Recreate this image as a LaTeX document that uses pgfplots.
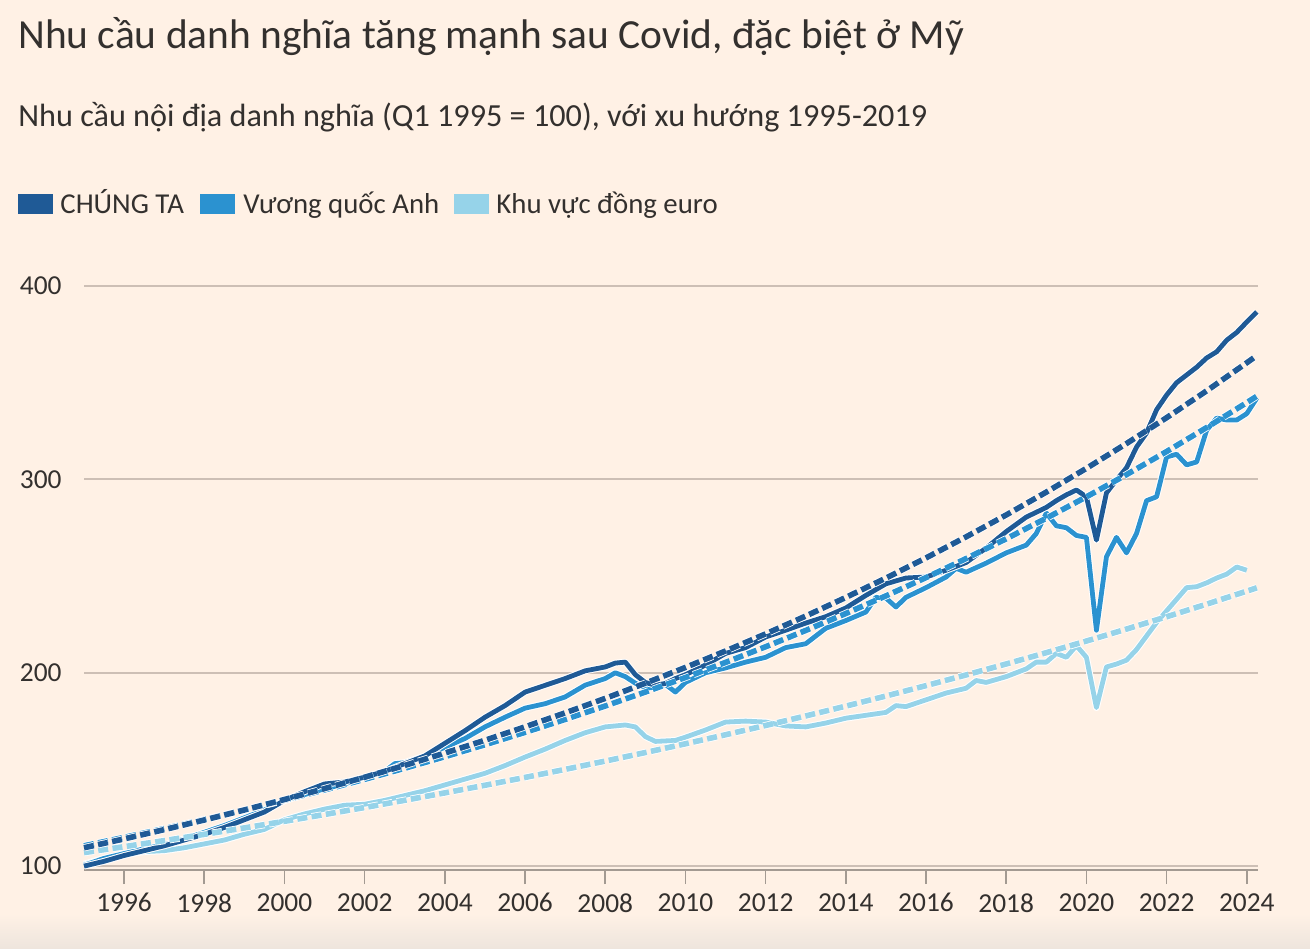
\documentclass[border=0pt]{standalone}
\usepackage{fontspec}
\setmainfont{Carlito}
\usepackage{pgfplots}
\pgfplotsset{compat=1.18}
\definecolor{bg}{HTML}{FFF1E5}
\definecolor{bgdark}{HTML}{EEE5DD}
\definecolor{txt}{HTML}{33302E}
\definecolor{usc}{HTML}{1F5A96}
\definecolor{ukc}{HTML}{2B92D0}
\definecolor{euc}{HTML}{96D3E9}
\definecolor{gridc}{HTML}{CDBFB5}
\definecolor{axc}{HTML}{A39A92}
\begin{document}
\begin{tikzpicture}[x=1pt,y=1pt]
\fill[bg] (0,0) rectangle (655,474);
\shade[top color=bg, bottom color=bgdark] (0,0) rectangle (655,17);
\node[anchor=base west, inner sep=0pt, text=txt, font=\fontsize{20.7}{24}\selectfont] at (9,449.5) {Nhu cầu danh nghĩa tăng mạnh sau Covid, đặc biệt ở Mỹ};
\node[anchor=base west, inner sep=0pt, text=txt, font=\fontsize{16.1}{19}\selectfont] at (9,410.5) {Nhu cầu nội địa danh nghĩa (Q1 1995 = 100), với xu hướng 1995-2019};
\fill[usc] (9,367) rectangle (26.5,377);
\node[anchor=base west, inner sep=0pt, text=txt, font=\fontsize{14.4}{17}\selectfont] at (30,367) {CHÚNG TA};
\fill[ukc] (100,367) rectangle (117.5,377);
\node[anchor=base west, inner sep=0pt, text=txt, font=\fontsize{14.4}{17}\selectfont] at (121.5,367) {Vương quốc Anh};
\fill[euc] (227,367) rectangle (244.5,377);
\node[anchor=base west, inner sep=0pt, text=txt, font=\fontsize{14.4}{17}\selectfont] at (248,367) {Khu vực đồng euro};
\begin{axis}[at={(42pt,39pt)}, anchor=south west, scale only axis,
  width=587pt, height=292pt,
  xmin=1995, xmax=2024.28, ymin=98, ymax=400, clip=false,
  axis x line*=bottom, axis y line*=left,
  x axis line style={draw=axc, line width=1pt, -},
  y axis line style={draw=none},
  xtick={1996,1998,...,2024}, ytick={100,200,300,400},
  tick align=outside, major tick length=7pt,
  x tick style={draw=axc, line width=0.8pt},
  y tick style={draw=none},
  ymajorgrids, grid style={draw=gridc, line width=1pt},
  /pgf/number format/assume math mode=true,
  /pgf/number format/1000 sep={},
  ticklabel style={font=\fontsize{13.7}{16}\selectfont, text=txt},
  xticklabel style={anchor=north, inner sep=0pt, yshift=-4.5pt},
  yticklabel style={anchor=east, inner sep=0pt, xshift=-4pt},
  solid/.style={line width=2.4pt, line join=round, preaction={draw=white, line width=3.4pt}},
  trend/.style={line width=2.8pt, dash pattern=on 5pt off 2.2pt, preaction={draw=white, line width=3.6pt}},
]
% Euro area
\addplot[solid, euc] coordinates {
(1995.0,101) (1995.5,104) (1996.0,106) (1996.5,107.5) (1997.0,108) (1997.5,109.5)
(1998.0,111.5) (1998.5,113.5) (1999.0,116.5) (1999.5,119) (2000.0,124) (2000.5,127)
(2001.0,129.5) (2001.5,131.5) (2002.0,132) (2002.5,134) (2003.0,136.5) (2003.5,139)
(2004.0,142) (2004.5,145) (2005.0,148) (2005.5,152) (2006.0,156.4) (2006.5,160.5)
(2007.0,165) (2007.5,169) (2008.0,172) (2008.5,173) (2008.75,172) (2009.0,167)
(2009.25,164.5) (2009.75,165) (2010.0,166.7) (2010.5,170.4) (2011.0,174.5) (2011.5,175)
(2012.0,174.5) (2012.5,172.5) (2013.0,172) (2013.5,174) (2014.0,176.5) (2014.5,178)
(2015.0,179.5) (2015.25,183) (2015.5,182.5) (2016.0,186) (2016.5,189.5) (2017.0,192)
(2017.25,196) (2017.5,195) (2018.0,198) (2018.5,202) (2018.75,205.5) (2019.0,205.5)
(2019.25,210) (2019.5,208) (2019.75,214) (2020.0,208) (2020.25,182) (2020.5,203)
(2020.75,204.5) (2021.0,206.5) (2021.25,212) (2021.5,219) (2021.75,226) (2022.0,232)
(2022.25,238) (2022.5,244) (2022.75,244.5) (2023.0,246.5) (2023.25,249) (2023.5,251)
(2023.75,254.7) (2024.0,253)
};
% UK
\addplot[solid, ukc] coordinates {
(1995.0,100.5) (1995.5,104) (1996.0,106.5) (1996.5,109) (1997.0,111) (1997.5,114)
(1998.0,117.5) (1998.5,121) (1999.0,125) (1999.5,129) (2000.0,134) (2000.5,137)
(2001.0,140) (2001.5,142.5) (2002.0,146) (2002.5,149) (2002.75,153) (2003.0,153.5)
(2003.5,157) (2004.0,161.5) (2004.5,166) (2005.0,172) (2005.5,177) (2006.0,181.7)
(2006.5,184) (2007.0,187.5) (2007.5,193.6) (2008.0,197) (2008.25,200) (2008.5,198)
(2008.75,194.6) (2009.0,192) (2009.25,192.5) (2009.5,194) (2009.75,190) (2010.0,195)
(2010.5,200) (2011.0,202.5) (2011.5,205.5) (2012.0,208) (2012.5,213) (2013.0,215)
(2013.5,223) (2014.0,227) (2014.5,231.4) (2014.75,239) (2015.0,238.6) (2015.25,234)
(2015.5,239) (2016.0,244) (2016.5,249.5) (2016.75,254) (2017.0,252) (2017.5,256.7)
(2018.0,262) (2018.5,266) (2018.75,272) (2019.0,282.6) (2019.25,276) (2019.5,275)
(2019.75,271) (2020.0,270) (2020.25,222) (2020.5,260) (2020.75,270) (2021.0,262)
(2021.25,272) (2021.5,289) (2021.75,291) (2022.0,311.6) (2022.25,313) (2022.5,307.5)
(2022.75,309) (2023.0,325.5) (2023.25,331.7) (2023.5,330.7) (2023.75,330.7) (2024.0,334)
(2024.25,342)
};
% US
\addplot[solid, usc] coordinates {
(1995.0,100) (1995.5,102.5) (1996.0,105.5) (1996.5,108) (1997.0,110.5) (1997.5,113.5)
(1998.0,116.5) (1998.5,120) (1999.0,124) (1999.5,128) (2000.0,134) (2000.5,138.5)
(2000.75,140.5) (2001.0,142.5) (2001.5,143.5) (2002.0,146) (2002.5,149) (2003.0,153)
(2003.5,157) (2004.0,163.5) (2004.5,170) (2005.0,177) (2005.5,183) (2006.0,190)
(2006.5,193.5) (2007.0,197) (2007.5,201) (2008.0,203) (2008.25,205) (2008.5,205.5)
(2008.75,199) (2009.0,195) (2009.25,193.5) (2009.5,194.5) (2009.75,197) (2010.0,199)
(2010.5,204) (2011.0,210) (2011.5,213) (2012.0,218.5) (2012.5,222) (2013.0,225.7)
(2013.5,229) (2014.0,233.5) (2014.5,240) (2015.0,246) (2015.5,249) (2016.0,249.5)
(2016.5,253) (2017.0,257) (2017.5,264.5) (2018.0,273) (2018.5,280.5) (2018.75,283)
(2019.0,285.5) (2019.25,289) (2019.5,292) (2019.75,294.5) (2020.0,291) (2020.25,268.6)
(2020.5,293) (2020.75,299.7) (2021.0,306) (2021.25,316.7) (2021.5,324) (2021.75,336)
(2022.0,343.6) (2022.25,350) (2022.5,354) (2022.75,358) (2023.0,362.8) (2023.25,366)
(2023.5,372) (2023.75,376) (2024.0,381.4) (2024.25,386.6)
};
% Euro trend
\addplot[trend, euc] coordinates {
(1995,107.0) (1996,110.06) (1997,113.20) (1998,116.44) (1999,119.76) (2000,123.18)
(2001,126.70) (2002,130.32) (2003,134.05) (2004,137.88) (2005,141.82) (2006,145.87)
(2007,150.04) (2008,154.33) (2009,158.74) (2010,163.27) (2011,167.94) (2012,172.74)
(2013,177.67) (2014,182.75) (2015,187.97) (2016,193.34) (2017,198.87) (2018,204.55)
(2019,210.39) (2020,216.40) (2021,222.59) (2022,228.95) (2023,235.49) (2024,242.22)
(2024.25,243.93)
};
% UK trend
\addplot[trend, ukc] coordinates {
(1995,110.5) (1996,114.86) (1997,119.40) (1998,124.12) (1999,129.02) (2000,134.11)
(2001,139.41) (2002,144.91) (2003,150.63) (2004,156.58) (2005,162.76) (2006,169.19)
(2007,175.87) (2008,182.81) (2009,190.03) (2010,197.54) (2011,205.34) (2012,213.45)
(2013,221.88) (2014,230.64) (2015,239.75) (2016,249.21) (2017,259.05) (2018,269.28)
(2019,279.92) (2020,290.97) (2021,302.46) (2022,314.40) (2023,326.82) (2024,339.72)
(2024.25,343.0)
};
% US trend
\addplot[trend, usc] coordinates {
(1995,109.5) (1996,114.09) (1997,118.88) (1998,123.86) (1999,129.05) (2000,134.46)
(2001,140.10) (2002,145.97) (2003,152.09) (2004,158.47) (2005,165.11) (2006,172.03)
(2007,179.25) (2008,186.76) (2009,194.59) (2010,202.75) (2011,211.25) (2012,220.10)
(2013,229.33) (2014,238.95) (2015,248.96) (2016,259.40) (2017,270.28) (2018,281.61)
(2019,293.41) (2020,305.71) (2021,318.53) (2022,331.89) (2023,345.80) (2024,360.30)
(2024.25,364.0)
};
\end{axis}
\end{tikzpicture}
\end{document}
